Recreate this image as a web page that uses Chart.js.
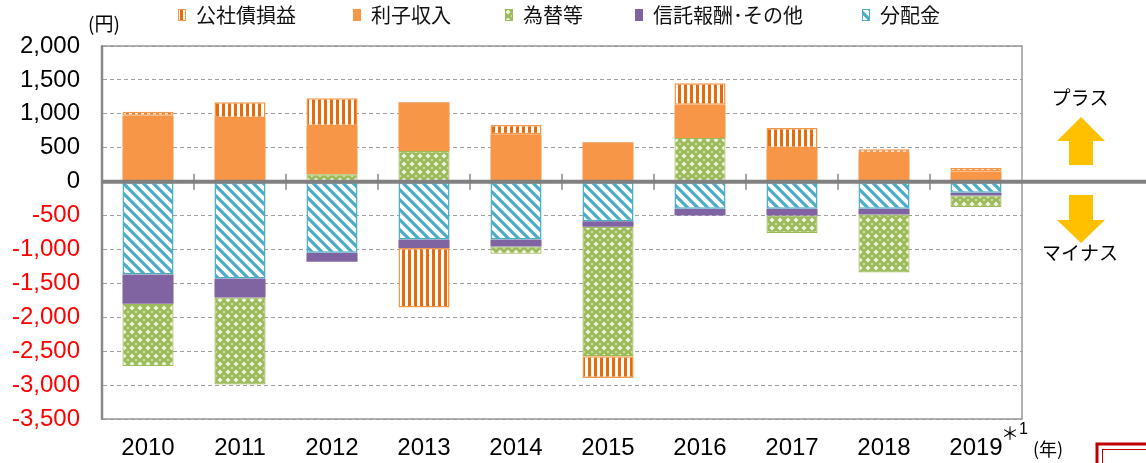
<!DOCTYPE html>
<html>
<head>
<meta charset="utf-8">
<script src="https://cdn.jsdelivr.net/npm/chart.js@4"></script>
<style>
  html, body { margin: 0; padding: 0; background: #fff; }
  #wrap { width: 1146px; height: 463px; position: relative; }
</style>
</head>
<body>
<div id="wrap"><canvas id="chart"></canvas></div>
<script>
const years = ['2010', '2011', '2012', '2013', '2014', '2015', '2016', '2017', '2018', '2019'];
const bondGain = [60, 230, 410, -875, 135, -320, 315, 295, 53, 50];
const interest = [970, 940, 710, 720, 700, 580, 490, 497, 423, 150];
const fxEtc = [-920, -1280, 110, 450, -110, -1910, 645, -257, -855, -170];
const feesOther = [-430, -280, -130, -125, -100, -80, -100, -100, -85, -40];
const distribution = [-1370, -1430, -1050, -855, -855, -585, -400, -400, -400, -165];
const yMin = -3500, yMax = 2000, yStep = 500;

const jpFont = '"Noto Sans CJK JP", sans-serif';
const numFont = '"Liberation Sans", Arial, sans-serif';

function makePattern(w, h, draw) {
    const c = document.createElement('canvas');
    c.width = w; c.height = h;
    const x = c.getContext('2d');
    draw(x, w, h);
    return x.createPattern(c, 'repeat');
}

function diamond(x, cx, cy, r) {
    x.beginPath();
    x.moveTo(cx, cy - r); x.lineTo(cx + r, cy); x.lineTo(cx, cy + r); x.lineTo(cx - r, cy);
    x.closePath(); x.fill();
}

const stripes = makePattern(6, 6, function(x) {
    x.fillStyle = '#fff'; x.fillRect(0, 0, 6, 6);
    x.fillStyle = '#E46C0A'; x.fillRect(0, 0, 3, 6);
});
const diag = makePattern(10, 10, function(x) {
    x.fillStyle = '#fff'; x.fillRect(0, 0, 10, 10);
    x.strokeStyle = '#4BACC6'; x.lineWidth = 3.2;
    x.beginPath();
    x.moveTo(-2, -2); x.lineTo(12, 12);
    x.moveTo(-2, 8); x.lineTo(2, 12);
    x.moveTo(8, -2); x.lineTo(12, 2);
    x.stroke();
});
const lattice = makePattern(8, 8, function(x) {
    x.fillStyle = '#9BBB59'; x.fillRect(0, 0, 8, 8);
    x.fillStyle = '#EEF4E2';
    diamond(x, 4, 4, 2.6);
    x.fillStyle = '#CFDFAE';
    diamond(x, 0, 0, 1.6); diamond(x, 8, 0, 1.6); diamond(x, 0, 8, 1.6); diamond(x, 8, 8, 1.6);
});

// stacking order: negatives dist -> other -> fx -> bond, positives fx -> interest -> bond
const datasets = [
    { label: '分配金', data: distribution, backgroundColor: diag, borderColor: '#4BACC6', borderWidth: 1.5, borderSkipped: false },
    { label: '信託報酬･その他', data: feesOther, backgroundColor: '#8064A2', borderWidth: 0 },
    { label: '為替等', data: fxEtc, backgroundColor: lattice, borderColor: '#9BBB59', borderWidth: 1.2, borderSkipped: false },
    { label: '利子収入', data: interest, backgroundColor: '#F79646', borderWidth: 0 },
    { label: '公社債損益', data: bondGain, backgroundColor: stripes, borderColor: '#F79646', borderWidth: 1.5, borderSkipped: false }
];

const annot = {
    id: 'annot',
    afterDatasetsDraw(chart) {
        const ctx = chart.ctx, a = chart.chartArea;
        const y0 = chart.scales.y.getPixelForValue(0);
        const xs = chart.scales.x;
        ctx.save();
        // plot frame
        ctx.strokeStyle = '#999';
        ctx.lineWidth = 1.5;
        ctx.strokeRect(a.left, a.top, a.right - a.left, a.bottom - a.top);
        ctx.strokeStyle = '#888';
        ctx.lineWidth = 2.5;
        ctx.beginPath(); ctx.moveTo(a.left, a.top); ctx.lineTo(a.left, a.bottom); ctx.stroke();
        // category ticks on the zero line
        ctx.strokeStyle = '#888';
        ctx.lineWidth = 1.5;
        for (let i = 1; i < years.length; i++) {
            const px = (xs.getPixelForValue(i - 1) + xs.getPixelForValue(i)) / 2;
            ctx.beginPath(); ctx.moveTo(px, y0 - 8); ctx.lineTo(px, y0 + 8); ctx.stroke();
        }
        // zero line
        ctx.strokeStyle = '#808080';
        ctx.lineWidth = 4;
        ctx.beginPath(); ctx.moveTo(a.left, y0); ctx.lineTo(chart.width, y0); ctx.stroke();
        ctx.restore();
    },
    afterDraw(chart) {
        const ctx = chart.ctx, a = chart.chartArea;
        const xs = chart.scales.x;
        ctx.save();
        // legend, same order as the original (reverse of stacking)
        ctx.font = '20px ' + jpFont;
        ctx.textBaseline = 'middle';
        ctx.textAlign = 'left';
        const items = chart.data.datasets.slice().reverse();
        const legendX = [178, 353, 505, 635, 862];
        const boxW = 8, boxH = 12, ly = 15;
        items.forEach((d, i) => {
            const lx = legendX[i];
            ctx.fillStyle = d.backgroundColor;
            ctx.fillRect(lx, ly - boxH / 2, boxW, boxH);
            if (d.borderWidth) {
                ctx.strokeStyle = d.borderColor;
                ctx.lineWidth = 1;
                ctx.strokeRect(lx + 0.5, ly - boxH / 2 + 0.5, boxW - 1, boxH - 1);
            }
            ctx.fillStyle = '#111';
            ctx.fillText(d.label, lx + boxW + 10, ly);
        });

        ctx.fillStyle = '#000';
        ctx.font = '19px ' + jpFont;
        ctx.fillText('(円)', 88, 24);
        // year unit and footnote mark
        const last = xs.getPixelForValue(years.length - 1);
        ctx.font = '18px ' + jpFont;
        ctx.fillText('＊', last + 25, 433);
        ctx.font = '16px ' + numFont;
        ctx.fillText('1', last + 43, 430);
        ctx.font = '18px ' + jpFont;
        ctx.fillText('(年)', a.right + 11, 449);
        // arrows
        const cx = a.right + 59;
        ctx.fillStyle = '#FFC000';
        ctx.beginPath();
        ctx.moveTo(cx, 117); ctx.lineTo(cx + 24, 141); ctx.lineTo(cx + 12, 141); ctx.lineTo(cx + 12, 165);
        ctx.lineTo(cx - 12, 165); ctx.lineTo(cx - 12, 141); ctx.lineTo(cx - 24, 141); ctx.closePath();
        ctx.fill();
        ctx.beginPath();
        ctx.moveTo(cx, 243); ctx.lineTo(cx + 24, 220); ctx.lineTo(cx + 12, 220); ctx.lineTo(cx + 12, 195);
        ctx.lineTo(cx - 12, 195); ctx.lineTo(cx - 12, 220); ctx.lineTo(cx - 24, 220); ctx.closePath();
        ctx.fill();
        ctx.fillStyle = '#000';
        ctx.textAlign = 'center';
        ctx.font = '19px ' + jpFont;
        ctx.fillText('プラス', cx - 1, 98);
        ctx.fillText('マイナス', cx - 1, 253);
        // cropped red box in the corner
        ctx.strokeStyle = '#C00000';
        ctx.lineWidth = 3;
        ctx.strokeRect(1097, 444, 80, 60);
        ctx.lineWidth = 1;
        ctx.strokeRect(1102.5, 449.5, 70, 50);
        ctx.restore();
    }
};

new Chart(document.getElementById('chart'), {
    type: 'bar',
    data: { labels: years, datasets: datasets },
    plugins: [annot],
    options: {
        responsive: true,
        maintainAspectRatio: false,
        animation: false,
        layout: { padding: { left: 0, right: 38, top: 46, bottom: 0 } },
        datasets: { bar: { categoryPercentage: 1, barPercentage: 0.555 } },
        plugins: {
            tooltip: { enabled: false },
            legend: { display: false }
        },
        scales: {
            x: {
                stacked: true,
                afterFit(s) { s.height = 44; },
                grid: { display: false, drawTicks: false },
                border: { display: false },
                ticks: { color: '#000', padding: 15, font: { family: numFont, size: 24 } }
            },
            y: {
                stacked: true,
                min: yMin,
                max: yMax,
                afterFit(s) { s.width = 102; },
                grid: { color: '#a0a0a0', lineWidth: 1, drawTicks: false },
                border: { display: true, color: '#888', width: 2, dash: [4, 3] },
                ticks: {
                    stepSize: yStep,
                    padding: 22,
                    font: { family: numFont, size: 24 },
                    color: ctx => ctx.tick.value < 0 ? '#FF0000' : '#000',
                    callback: v => v.toLocaleString('en-US')
                }
            },
            y2: {
                position: 'right',
                min: yMin,
                max: yMax,
                afterFit(s) { s.width = 86; },
                grid: { display: false },
                border: { display: false },
                ticks: { display: false }
            }
        }
    }
});
</script>
</body>
</html>
